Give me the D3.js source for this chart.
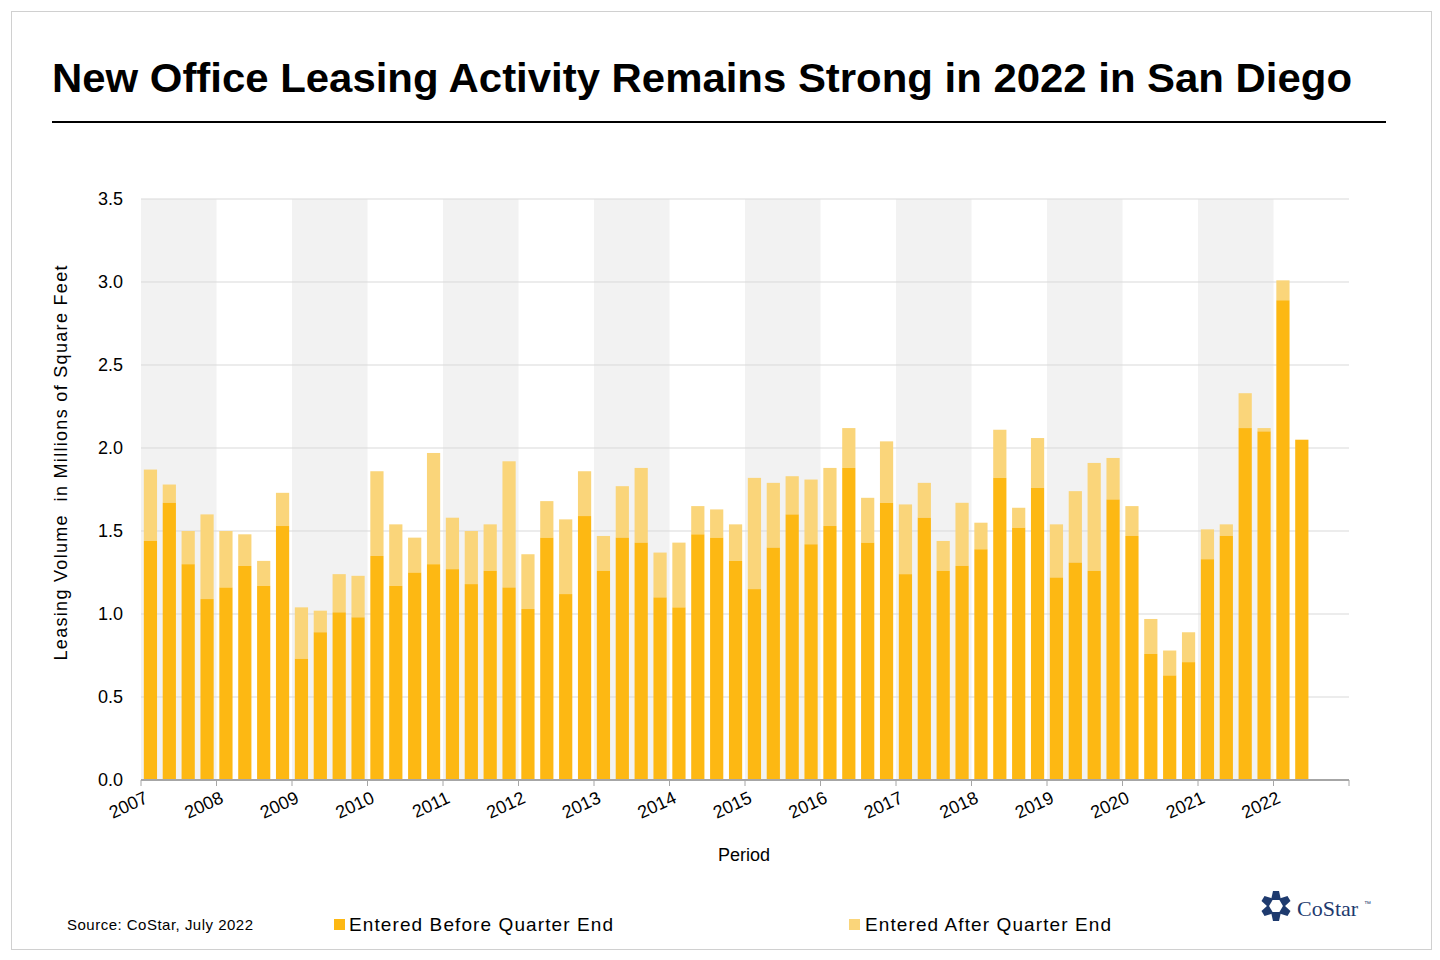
<!DOCTYPE html>
<html><head><meta charset="utf-8">
<script src="https://cdn.jsdelivr.net/npm/d3@7"></script>
<style>body{margin:0;background:#fff;font-family:Arial,"Liberation Sans",sans-serif}</style>
</head><body>
<svg id="chart" width="1440" height="960"></svg>
<script>
// values in millions of sq ft, per quarter 2007Q1..2022Q2
let years=["2007","2008","2009","2010","2011","2012","2013","2014","2015","2016","2017","2018","2019","2020","2021","2022"];
let before=[1.44,1.67,1.30,1.09, 1.16,1.29,1.17,1.53, 0.73,0.89,1.01,0.98, 1.35,1.17,1.25,1.30,
  1.27,1.18,1.26,1.16, 1.03,1.46,1.12,1.59, 1.26,1.46,1.43,1.10, 1.04,1.48,1.46,1.32,
  1.15,1.40,1.60,1.42, 1.53,1.88,1.43,1.67, 1.24,1.58,1.26,1.29, 1.39,1.82,1.52,1.76,
  1.22,1.31,1.26,1.69, 1.47,0.76,0.63,0.71, 1.33,1.47,2.12,2.10, 2.89,2.05];
let total=[1.87,1.78,1.50,1.60, 1.50,1.48,1.32,1.73, 1.04,1.02,1.24,1.23, 1.86,1.54,1.46,1.97,
  1.58,1.50,1.54,1.92, 1.36,1.68,1.57,1.86, 1.47,1.77,1.88,1.37, 1.43,1.65,1.63,1.54,
  1.82,1.79,1.83,1.81, 1.88,2.12,1.70,2.04, 1.66,1.79,1.44,1.67, 1.55,2.11,1.64,2.06,
  1.54,1.74,1.91,1.94, 1.65,0.97,0.78,0.89, 1.51,1.54,2.33,2.12, 3.01,2.05];
let yTicks=[0,0.5,1,1.5,2,2.5,3,3.5];

const svg=d3.select("#chart");
svg.append("rect").attr("x",11.5).attr("y",11.5).attr("width",1420).attr("height",938).attr("fill","none").attr("stroke","#d0d0d0");
svg.append("text").attr("x",52).attr("y",92).attr("font-size",40).attr("font-weight","bold")
  .attr("textLength",1300).attr("lengthAdjust","spacingAndGlyphs").text("New Office Leasing Activity Remains Strong in 2022 in San Diego");
svg.append("line").attr("x1",52).attr("x2",1386).attr("y1",122).attr("y2",122).attr("stroke","#000").attr("stroke-width",2);

const L=141,R=1349,T=199,B=780;
const x=d3.scaleBand().domain(d3.range(64)).range([L,R]).paddingInner(0.3).paddingOuter(0.15);
const xy=d3.scaleBand().domain(years).range([L,R]);
const y=d3.scaleLinear().domain([0,3.5]).range([B,T]);

svg.selectAll(".band").data(years.filter((d,i)=>i%2==0)).enter().append("rect")
  .attr("x",d=>xy(d)).attr("width",xy.bandwidth()).attr("y",T).attr("height",B-T).attr("fill","#f2f2f2");
svg.selectAll(".grid").data(yTicks.slice(1)).enter().append("line")
  .attr("x1",L).attr("x2",R).attr("y1",d=>y(d)).attr("y2",d=>y(d)).attr("stroke","#d9d9d9");

svg.selectAll(".after").data(total).enter().append("rect")
  .attr("x",(d,i)=>x(i)).attr("width",x.bandwidth()).attr("y",d=>y(d)).attr("height",(d,i)=>y(before[i])-y(d)).attr("fill","#fad57a");
svg.selectAll(".before").data(before).enter().append("rect")
  .attr("x",(d,i)=>x(i)).attr("width",x.bandwidth()).attr("y",d=>y(d)).attr("height",d=>B-y(d)).attr("fill","#fdb813");

const ya=svg.append("g").attr("transform","translate("+L+",0)")
  .call(d3.axisLeft(y).tickValues(yTicks).tickFormat(d3.format(".1f")).tickSize(0).tickPadding(18));
ya.select(".domain").remove();
ya.selectAll("text").attr("font-size",18).attr("fill","#000").attr("font-family","Arial,Liberation Sans");

const xa=svg.append("g").attr("transform","translate(0,"+B+")");
xa.append("line").attr("x1",L).attr("x2",R).attr("stroke","#a6a6a6").attr("stroke-width",2);
xa.selectAll(".tk").data(years.concat(["end"])).enter().append("line")
  .attr("x1",(d,i)=>L+i*xy.bandwidth()).attr("x2",(d,i)=>L+i*xy.bandwidth()).attr("y1",0).attr("y2",6).attr("stroke","#a6a6a6");
xa.selectAll(".yl").data(years).enter().append("text")
  .attr("transform",d=>"translate("+(xy(d)+8)+",22) rotate(-25)").attr("text-anchor","end")
  .attr("font-size",18).text(d=>d);

svg.append("text").attr("x",744).attr("y",861).attr("text-anchor","middle").attr("font-size",18).text("Period");
svg.append("text").attr("transform","translate(67,463) rotate(-90)").attr("text-anchor","middle").attr("font-size",18)
  .attr("textLength",395).attr("xml:space","preserve").text("Leasing Volume  in Millions of Square Feet");

svg.append("text").attr("x",67).attr("y",930).attr("font-size",15).attr("textLength",186).text("Source: CoStar, July 2022");
svg.append("rect").attr("x",334).attr("y",919).attr("width",11).attr("height",11).attr("fill","#fdb813");
svg.append("text").attr("x",349).attr("y",931).attr("font-size",19).attr("textLength",264).text("Entered Before Quarter End");
svg.append("rect").attr("x",849).attr("y",919).attr("width",11).attr("height",11).attr("fill","#fad57a");
svg.append("text").attr("x",865).attr("y",931).attr("font-size",19).attr("textLength",246).text("Entered After Quarter End");

// logo
const lg=svg.append("g").attr("transform","translate(1276,906)");
d3.range(6).forEach(i=>{
  lg.append("path").attr("d","M-3,-15 L3,-15 L5,-6 L-5,-6 Z").attr("fill","#1e3a6e")
    .attr("transform","rotate("+(i*60)+")");
});
svg.append("text").attr("x",1297).attr("y",916).attr("font-size",22).attr("font-family","Liberation Serif,serif").attr("fill","#1e3a6e").text("CoStar");
svg.append("text").attr("x",1364).attr("y",906).attr("font-size",7).attr("fill","#1e3a6e").text("™");
</script>
</body></html>
